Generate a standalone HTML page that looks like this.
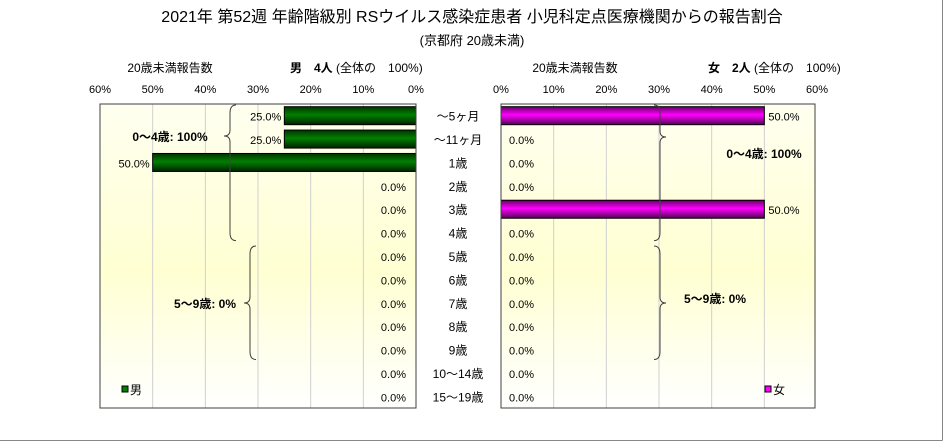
<!DOCTYPE html>
<html><head><meta charset="utf-8"><style>
body{margin:0;background:#fff;}
svg text{font-family:"Liberation Sans","Noto Sans CJK JP",sans-serif;fill:#000;}
</style></head><body>
<svg id="c" width="944" height="443" xmlns="http://www.w3.org/2000/svg">
<defs>
<linearGradient id="bg" x1="0" y1="0" x2="0" y2="1"><stop offset="0" stop-color="#fffff0"/><stop offset="0.55" stop-color="#ffffd2"/><stop offset="1" stop-color="#ffffff"/></linearGradient>
<linearGradient id="gm" x1="0" y1="0" x2="0" y2="1"><stop offset="0" stop-color="#003300"/><stop offset="0.45" stop-color="#008000"/><stop offset="1" stop-color="#002200"/></linearGradient>
<linearGradient id="gf" x1="0" y1="0" x2="0" y2="1"><stop offset="0" stop-color="#660066"/><stop offset="0.45" stop-color="#ff00ff"/><stop offset="1" stop-color="#550055"/></linearGradient>
</defs>
<line x1="942.5" y1="0" x2="942.5" y2="440.5" stroke="#888"/>
<line x1="0" y1="440.5" x2="942.5" y2="440.5" stroke="#888"/>
<text x="472" y="22" font-size="16" text-anchor="middle">2021年 第52週 年齢階級別 RSウイルス感染症患者 小児科定点医療機関からの報告割合</text>
<text x="472" y="45" font-size="13" text-anchor="middle">(京都府 20歳未満)</text>
<text x="170" y="72" font-size="12" text-anchor="middle">20歳未満報告数</text>
<text x="290" y="72" font-size="12"><tspan font-weight="bold">男　4人</tspan> (全体の　100%)</text>
<text x="575" y="72" font-size="12" text-anchor="middle">20歳未満報告数</text>
<text x="708" y="72" font-size="12"><tspan font-weight="bold">女　2人</tspan> (全体の　100%)</text>
<g id="g"></g>
</svg>
<script>
const categories=["～5ヶ月","～11ヶ月","1歳","2歳","3歳","4歳","5歳","6歳","7歳","8歳","9歳","10～14歳","15～19歳"];
const maleValues=[25,25,50,0,0,0,0,0,0,0,0,0,0];
const femaleValues=[50,0,0,0,50,0,0,0,0,0,0,0,0];
const tickValues=[0,10,20,30,40,50,60];
const NS="http://www.w3.org/2000/svg";
const g=document.getElementById('g');
const top0=104,bot0=408,n=categories.length,rowH=(bot0-top0)/n;
const L={x0:416,dir:-1,left:100,right:416},R={x0:501,dir:1,left:501,right:815};
const pxPer=(416-100)/60;
function xs(p,v){return p.x0+p.dir*v*pxPer;}
function yc(i){return top0+rowH*(i+0.5);}
function mk(t,a,txt){const e=document.createElementNS(NS,t);for(const k in a)e.setAttribute(k,a[k]);if(txt!==undefined)e.textContent=txt;g.appendChild(e);return e;}
function panel(p,vals,fill,nm,legendTxt,legendColor){
  let r=mk('rect',{x:p.left,y:top0,width:p.right-p.left,height:bot0-top0,fill:'url(#bg)',stroke:'none'});
  
  
  tickValues.forEach(t=>{
    const x=xs(p,t);
    if(t>0&&t<60){const l=mk('line',{x1:x,x2:x,y1:top0,y2:bot0,stroke:'#d0d0d0'});
      
      }
    const tx=mk('text',{x:x,y:93,'font-size':11,'text-anchor':'middle'},t+'%');
    
    
  });
  vals.forEach((v,i)=>{
    const y=yc(i);
    if(v>0){const x=xs(p,v);
      const b=mk('rect',{x:Math.min(x,p.x0),y:y-9,width:Math.abs(x-p.x0),height:18,fill:fill,stroke:'#000','stroke-width':1});
      
      }
    const lx=p.dir<0?xs(p,v)-3:xs(p,v)+4;
    const lbl=mk('text',{x:v>0?lx:(p.dir<0?p.x0-10:p.x0+8),y:y+5,'font-size':11,'text-anchor':p.dir<0?'end':'start'},v.toFixed(1)+'%');
    
    
  });
  const f=mk('rect',{x:p.left,y:top0,width:p.right-p.left,height:bot0-top0,fill:'none',stroke:'#404040','stroke-width':1});
  
  
  const lx=p.dir<0?p.left+22:p.right-50;
  const lr=mk('rect',{x:lx,y:386,width:6,height:6,fill:legendColor,stroke:'#000'});
  
  
  const lt=mk('text',{x:lx+8,y:394,'font-size':12},legendTxt);
  
  
}
panel(L,maleValues,'url(#gm)','male','男','#008000');
panel(R,femaleValues,'url(#gf)','female','女','#ff00ff');
categories.forEach((c,i)=>{
  const t=mk('text',{x:458,y:yc(i)+5,'font-size':12,'text-anchor':'middle'},c);
  
  
});
function brace(x,y1,y2,m,dir,nm){
  const d=dir*6;
  const p=mk('path',{d:`M${x+d},${y1} Q${x},${y1} ${x},${y1+8} L${x},${m-6} Q${x},${m} ${x-d},${m} Q${x},${m} ${x},${m+6} L${x},${y2-8} Q${x},${y2} ${x+d},${y2}`,fill:'none',stroke:'#404040','stroke-width':1});
  
  
}
brace(230,top0+1,yc(5)+8,136,1,'male-brace-0-4');
brace(250,yc(6)-10,yc(10)+10,303,1,'male-brace-5-9');
brace(660,top0+1,yc(5)+8,137,-1,'female-brace-0-4');
brace(660,yc(6)-10,yc(10)+10,303,-1,'female-brace-5-9');
[[170,141,'male-group-0-4','0～4歳: 100%'],[205,308,'male-group-5-9','5～9歳: 0%'],[764,158,'female-group-0-4','0～4歳: 100%'],[715,303,'female-group-5-9','5～9歳: 0%']].forEach(a=>{
  const t=mk('text',{x:a[0],y:a[1],'font-size':12,'font-weight':'bold','text-anchor':'middle'},a[3]);
  
  
});
</script>
</body></html>
